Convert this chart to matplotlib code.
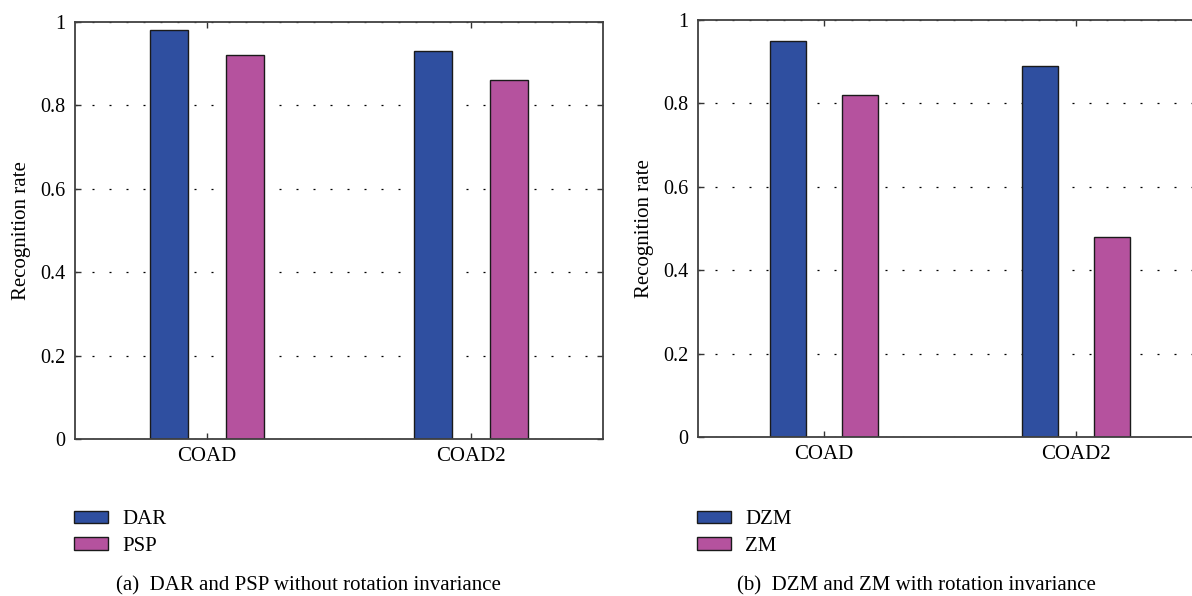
import matplotlib.pyplot as plt
from matplotlib.patches import Patch

plt.rcParams['font.family'] = ['Liberation Serif', 'DejaVu Serif']

# data
groups = ['COAD', 'COAD2']
dar = [0.98, 0.93]
psp = [0.92, 0.86]
dzm = [0.95, 0.89]
zm = [0.82, 0.48]
yticks = [0, 0.2, 0.4, 0.6, 0.8, 1]
ytick_labels = ['0', '0.2', '0.4', '0.6', '0.8', '1']

blue = '#2f4fa0'
pink = '#b5529e'

fig = plt.figure(figsize=(11.92, 5.96), dpi=100)
ax1 = fig.add_axes([75/1192, 1-439/596, 528/1192, 417/596])
ax2 = fig.add_axes([698/1192, 1-437/596, 504/1192, 417/596])

panels = [
    (ax1, dar, psp, ['DAR', 'PSP'], '(a)  DAR and PSP without rotation invariance', 308, 74, 528),
    (ax2, dzm, zm, ['DZM', 'ZM'], '(b)  DZM and ZM with rotation invariance', 916, 697, 504),
]

w = 0.143
for ax, s1, s2, names, caption, cx, lx, wpx in panels:
    x = [1, 2]
    ax.bar([v - w for v in x], s1, w, color=blue, edgecolor='#1a1a1a', linewidth=1)
    ax.bar([v + w for v in x], s2, w, color=pink, edgecolor='#1a1a1a', linewidth=1)
    ax.set_xlim(0.5, 2.5)
    ax.set_ylim(0, 1)
    ax.set_xticks(x)
    ax.set_xticklabels(groups, fontsize=15)
    ax.set_yticks(yticks)
    ax.set_yticklabels(ytick_labels, fontsize=14.5)
    ax.tick_params(direction='in', length=4, width=1, top=True, right=True, colors='#333333', labelcolor='black')
    ax.tick_params(axis='y', pad=7)
    ax.tick_params(axis='x', pad=6)
    for sp in ax.spines.values():
        sp.set_linewidth(1.3)
        sp.set_color('#404040')
    ax.set_axisbelow(True)
    ax.yaxis.grid(True, color='black', linestyle=(0, (1.6, 12)), linewidth=0.9)
    ax.set_ylabel('Recognition rate', fontsize=15)
    ax.yaxis.set_label_coords(-44 / wpx, 0.5)

    handles = [Patch(facecolor=blue, edgecolor='#1a1a1a', linewidth=1),
               Patch(facecolor=pink, edgecolor='#1a1a1a', linewidth=1)]
    fig.legend(handles, names, loc='upper left', bbox_to_anchor=(lx/1192, 1-510/596),
               frameon=False, fontsize=15, handlelength=1.65, handleheight=0.52,
               handletextpad=0.65, labelspacing=0.38, borderpad=0, borderaxespad=0)
    fig.text(cx/1192, 1-590/596, caption, ha='center', va='baseline', fontsize=15)

fig.savefig('out.png', dpi=100)
